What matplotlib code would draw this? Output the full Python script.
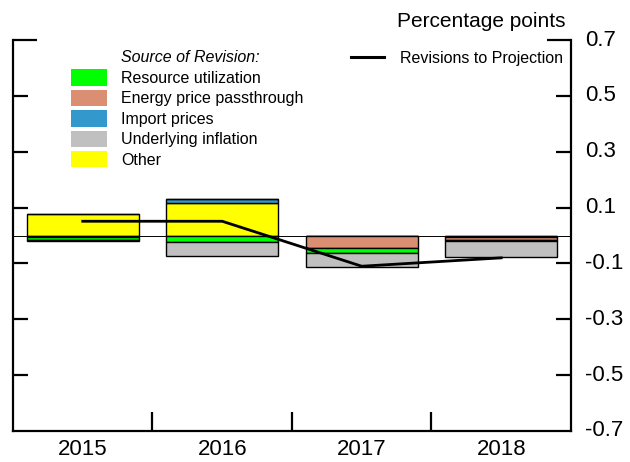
import numpy as np
import matplotlib
matplotlib.use('Agg')
import matplotlib.pyplot as plt
from matplotlib.patches import Patch
from matplotlib.lines import Line2D


plt.rcParams['font.family'] = ['Liberation Sans', 'DejaVu Sans']

years = ['2015', '2016', '2017', '2018']

# contributions, percentage points
other      = [0.078, 0.118, 0.000, 0.000]
imports    = [-0.006, 0.012, -0.002, -0.004]
energy     = [0.000, 0.000, -0.044, -0.012]
resource   = [-0.010, -0.025, -0.018, -0.003]
underlying = [-0.004, -0.047, -0.050, -0.058]

revisions = [0.051, 0.051, -0.110, -0.080]

series = [
    ('Other',                     other,      '#ffff00'),
    ('Import prices',             imports,    '#3399cc'),
    ('Energy price passthrough',  energy,     '#da8e72'),
    ('Resource utilization',      resource,   '#00ff00'),
    ('Underlying inflation',      underlying, '#c0c0c0'),
]
legend_order = ['Resource utilization', 'Energy price passthrough',
                'Import prices', 'Underlying inflation', 'Other']

fig = plt.figure(figsize=(6.3, 4.62), dpi=100)
ax = fig.add_axes([0.0206, 0.0671, 0.8857, 0.8463])

x = np.arange(len(years))
pos = np.zeros(len(years))
neg = np.zeros(len(years))
for name, vals, color in series:
    v = np.array(vals)
    bottom = np.where(v >= 0, pos, neg)
    ax.bar(x, v, 0.8, bottom=bottom, color=color,
           edgecolor='black', linewidth=1.0, zorder=2)
    pos += np.where(v >= 0, v, 0)
    neg += np.where(v < 0, v, 0)

ax.axhline(0, color='black', linewidth=0.7, zorder=3)
ax.plot(x, revisions, color='black', linewidth=2.0, zorder=4)

ax.set_xlim(-0.5, 3.5)
ax.set_ylim(-0.7, 0.7)

# spines
ax.spines['top'].set_visible(False)
for s in ['left', 'right', 'bottom']:
    ax.spines[s].set_linewidth(1.6)

# y ticks: inward both sides, labels right
ax.set_yticks([-0.5, -0.3, -0.1, 0.1, 0.3, 0.5])
ax.set_yticks([0.7], minor=True)
ax.tick_params(axis='y', which='major', direction='in', left=True, right=True,
               labelleft=False, labelright=False, length=11, width=1.6)
ax.tick_params(axis='y', which='minor', direction='in', left=True, right=True,
               length=17, width=1.6)
for v in [0.7, 0.5, 0.3, 0.1, -0.1, -0.3, -0.5, -0.7]:
    ax.text(1.025, v, f'{v:.1f}', transform=ax.get_yaxis_transform(),
            ha='left', va='center', fontsize=16)

# x ticks: boundaries as ticks, years as labels
ax.set_xticks([0.5, 1.5, 2.5])
ax.set_xticklabels([])
ax.tick_params(axis='x', which='major', direction='in', length=14, width=1.6)
ax.set_xticks(x, minor=True)
ax.set_xticklabels(years, minor=True, fontsize=16)
ax.tick_params(axis='x', which='minor', length=0, pad=6)

fig.text(0.897, 0.9545, 'Percentage points', ha='right', va='center', fontsize=15)

# legends
lookup = {name: color for name, vals, color in series}
handles = [Patch(facecolor=lookup[n], edgecolor='none') for n in legend_order]
leg = ax.legend(handles, legend_order, loc='upper left',
                bbox_to_anchor=(0.104, 0.925), frameon=False, fontsize=11.5,
                handlelength=2.25, handleheight=1.2, labelspacing=0.24,
                handletextpad=0.9, borderpad=0, borderaxespad=0)
ax.add_artist(leg)
ax.text(0.1935, 0.9565, 'Source of Revision:', transform=ax.transAxes,
        ha='left', va='center', fontsize=11.5, style='italic')

ax.legend([Line2D([0], [0], color='black', linewidth=2.2)], ['Revisions to Projection'],
          loc='upper right', bbox_to_anchor=(0.985, 0.972), frameon=False,
          fontsize=11.5, handlelength=2.1, handletextpad=0.95,
          borderpad=0, borderaxespad=0)

fig.savefig('out.png', dpi=100)
